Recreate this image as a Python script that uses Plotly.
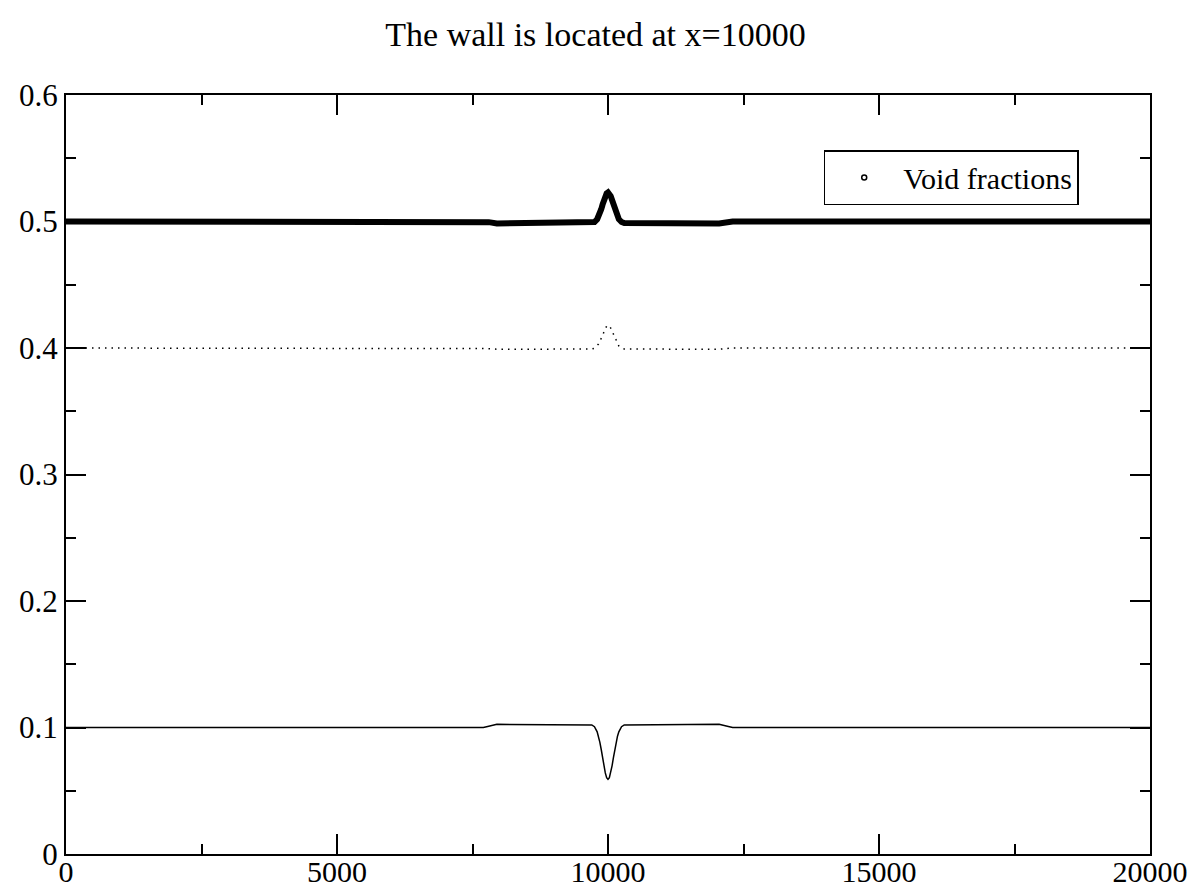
import plotly.graph_objects as go

# Positions along the domain
x_pos = [0, 7700, 7800, 7950,
         9700, 9750, 9800, 9825, 9850, 9875, 9900, 9925, 9950, 9975, 10000,
         10025, 10050, 10075, 10100, 10125, 10150, 10175, 10200, 10250, 10300,
         12050, 12200, 12300, 20000]

# Phase fractions
phase_a = [0.5, 0.5, 0.4995, 0.4985,
           0.4988, 0.4996, 0.5018, 0.5038, 0.5065, 0.5097, 0.5134, 0.5170, 0.5201, 0.5222, 0.523,
           0.5222, 0.5201, 0.5170, 0.5134, 0.5097, 0.5065, 0.5038, 0.5018, 0.4996, 0.4988,
           0.4985, 0.4995, 0.5, 0.5]
phase_b = [0.4, 0.4, 0.3995, 0.399,
           0.3992, 0.3998, 0.4016, 0.4031, 0.4052, 0.4077, 0.4105, 0.4133, 0.4158, 0.4174, 0.418,
           0.4174, 0.4158, 0.4133, 0.4105, 0.4077, 0.4052, 0.4031, 0.4016, 0.3998, 0.3992,
           0.399, 0.3995, 0.4, 0.4]
phase_c = [0.1, 0.1, 0.101, 0.1025,
           0.1020, 0.1006, 0.0966, 0.0931, 0.0883, 0.0826, 0.0761, 0.0697, 0.0641, 0.0604, 0.059,
           0.0604, 0.0641, 0.0697, 0.0761, 0.0826, 0.0883, 0.0931, 0.0966, 0.1006, 0.1020,
           0.1025, 0.101, 0.1, 0.1]

x_tickvals = [0, 5000, 10000, 15000, 20000]
x_ticktext = ["0", "5000", "10000", "15000", "20000"]
y_tickvals = [0, 0.1, 0.2, 0.3, 0.4, 0.5, 0.6]
y_ticktext = ["0", "0.1", "0.2", "0.3", "0.4", "0.5", "0.6"]

FONT = "Liberation Serif"

fig = go.Figure()
fig.add_trace(go.Scatter(x=x_pos, y=phase_a, mode="lines",
                         line=dict(color="black", width=6), showlegend=False))
fig.add_trace(go.Scatter(x=x_pos, y=phase_b, mode="lines",
                         line=dict(color="black", width=1.5, dash="1.5px,5px"),
                         showlegend=False))
fig.add_trace(go.Scatter(x=x_pos, y=phase_c, mode="lines",
                         line=dict(color="black", width=1.5), showlegend=False))
fig.add_trace(go.Scatter(x=[None], y=[None], mode="markers", name="Void fractions",
                         marker=dict(symbol="circle-open", size=5, color="black",
                                     line=dict(width=1.5, color="black"))))

axis_common = dict(showgrid=False, zeroline=False, showline=True, linecolor="black",
                   linewidth=2, mirror="allticks", ticks="inside", ticklen=20,
                   tickwidth=1.5, tickcolor="black", automargin=False)

fig.update_xaxes(range=[0, 20000], tickvals=x_tickvals, ticktext=x_ticktext,
                 tickfont=dict(family=FONT, size=30, color="black"),
                 ticklabelstandoff=-10,
                 minor=dict(dtick=2500, ticks="inside", ticklen=10, tickwidth=1.5,
                            tickcolor="black", tick0=0),
                 **axis_common)
fig.update_yaxes(range=[0, 0.6], tickvals=y_tickvals, ticktext=y_ticktext,
                 tickfont=dict(family=FONT, size=31, color="black"),
                 minor=dict(dtick=0.05, ticks="inside", ticklen=10, tickwidth=1.5,
                            tickcolor="black", tick0=0),
                 **axis_common)

fig.update_layout(
    width=1191, height=891,
    margin=dict(l=66, r=41, t=95, b=37),
    paper_bgcolor="white", plot_bgcolor="white",
    title=dict(text="The wall is located at x=10000", x=0.5, xanchor="center",
               y=1 - 34 / 891, yanchor="middle",
               font=dict(family=FONT, size=34, color="black")),
    legend=dict(x=0.699, y=0.9275, xanchor="left", yanchor="top",
                bordercolor="black", borderwidth=1.5, bgcolor="white",
                font=dict(family=FONT, size=30, color="black"),
                itemwidth=68),
    showlegend=True,
)

fig.write_html("out.html")
